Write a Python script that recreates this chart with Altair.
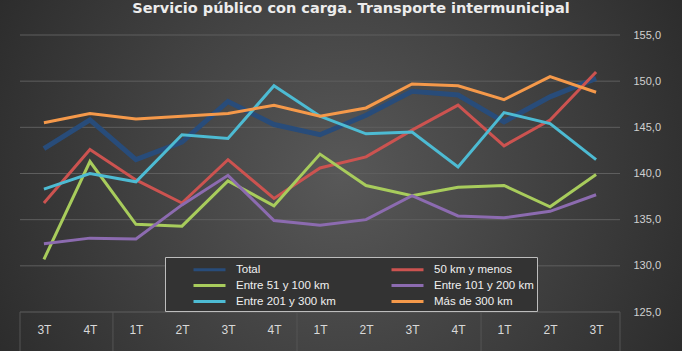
import altair as alt
import pandas as pd

title_text = "Servicio público con carga. Transporte intermunicipal"
quarters = ["3T", "4T", "1T", "2T", "3T", "4T", "1T", "2T", "3T", "4T", "1T", "2T", "3T"]
series_names = ["Total", " 50 km y menos", "Entre 51 y 100 km", "Entre 101 y 200 km",
                "Entre 201 y 300 km", "Más de 300 km"]
total = [142.7, 145.8, 141.5, 143.4, 147.8, 145.3, 144.2, 146.3, 148.9, 148.5, 145.6, 148.3, 150.3]
menos50 = [136.8, 142.6, 139.3, 136.8, 141.5, 137.3, 140.6, 141.8, 144.7, 147.4, 143.0, 145.8, 151.0]
e51_100 = [130.7, 141.3, 134.5, 134.3, 139.2, 136.5, 142.1, 138.7, 137.6, 138.5, 138.7, 136.4, 139.9]
e101_200 = [132.4, 133.0, 132.9, 136.6, 139.8, 134.9, 134.4, 135.0, 137.6, 135.4, 135.2, 135.9, 137.7]
e201_300 = [138.3, 140.0, 139.1, 144.2, 143.8, 149.5, 146.2, 144.3, 144.5, 140.7, 146.6, 145.4, 141.5]
mas300 = [145.5, 146.5, 145.9, 146.2, 146.5, 147.4, 146.2, 147.1, 149.7, 149.5, 148.0, 150.5, 148.8]
y_ticks = [125, 130, 135, 140, 145, 150, 155]
colors = ["#284c7a", "#cc5350", "#a8cc5c", "#8c6bb0", "#4dbbd3", "#f5994a"]
year_breaks = [-0.52, 1.5, 5.5, 9.5, 12.52]

all_series = [total, menos50, e51_100, e101_200, e201_300, mas300]
rows = []
for name, vals in zip(series_names, all_series):
    for i, v in enumerate(vals):
        rows.append({"serie": name, "idx": i, "valor": v})
df = pd.DataFrame(rows)
breaks_df = pd.DataFrame({"b": year_breaks})
grid_df = pd.DataFrame({"g": y_ticks})

FONT = "Liberation Sans"
x_scale = alt.Scale(domain=[-0.52, 12.52], nice=False, zero=False)
y_scale = alt.Scale(domain=[125, 155], nice=False, zero=False)
label_arr = "[" + ",".join("'%s'" % q for q in quarters) + "]"

x_axis = alt.Axis(values=list(range(13)), labelExpr=label_arr + "[datum.value]",
                  title=None, grid=False, domain=False, ticks=False, zindex=1,
                  labelPadding=12, labelColor="#d9d9d9", labelFontSize=12,
                  labelFont=FONT)
y_axis = alt.Axis(orient="right", values=y_ticks,
                  labelExpr="replace(format(datum.value, '.1f'), '.', ',')",
                  title=None, domain=False, ticks=False, grid=False, zindex=1,
                  labelPadding=13,
                  labelColor="#d0d0d0", labelFontSize=11, labelFont=FONT)

bg = alt.Chart(pd.DataFrame({"a": [0]})).mark_rect(
    fill=alt.RadialGradient(
        gradient="radial",
        stops=[alt.GradientStop(offset=0, color="#585858"),
               alt.GradientStop(offset=1, color="#1e1e1e")],
        x1=0.5, y1=0.5, r1=0, x2=0.5, y2=0.5, r2=0.75,
    ),
    clip=False,
).encode(x=alt.value(-20), x2=alt.value(662), y=alt.value(-35), y2=alt.value(316))

title = alt.Chart(pd.DataFrame({"t": [title_text]})).mark_text(
    font="DejaVu Sans", fontSize=14.5, fontWeight="bold", color="#ececec",
    align="center", baseline="alphabetic", clip=False,
).encode(text="t:N", x=alt.value(331), y=alt.value(-22))

grid = alt.Chart(grid_df).mark_rule(color="#5e5e5e", strokeWidth=1).encode(
    y=alt.Y("g:Q", scale=y_scale, axis=y_axis),
)

seps = alt.Chart(breaks_df).mark_rule(color="#555555", strokeWidth=1, clip=False).encode(
    x=alt.X("b:Q", scale=x_scale, axis=x_axis),
    y=alt.value(277),
    y2=alt.value(320),
)

lines = alt.Chart(df).mark_line(strokeJoin="miter").encode(
    x=alt.X("idx:Q", scale=x_scale, axis=x_axis),
    y=alt.Y("valor:Q", scale=y_scale, axis=y_axis),
    color=alt.Color("serie:N", sort=series_names,
                    scale=alt.Scale(domain=series_names, range=colors),
                    legend=alt.Legend(
                        title=None, orient="none", legendX=145, legendY=222,
                        direction="horizontal",
                        columns=2, symbolType="M-2,0H2", symbolSize=256,
                        symbolStrokeWidth=3, symbolOffset=32, labelOffset=17,
                        columnPadding=30, rowPadding=0, padding=3,
                        labelColor="#f0f0f0", labelFontSize=11.5, labelFont=FONT,
                        strokeColor="#bdbdbd", fillColor="#333333", labelLimit=200)),
    strokeWidth=alt.condition(alt.datum.serie == "Total", alt.value(5), alt.value(3)),
    order=alt.Order("idx:Q"),
)

chart = alt.layer(bg, title, grid, seps, lines).properties(
    width=600, height=277,
    padding={"left": 20, "top": 35, "right": 62, "bottom": 39},
    autosize=alt.AutoSizeParams(type="none"),
).configure(background="#2a2a2a").configure_view(stroke=None)

chart.save("out.html", embed_options={"renderer": "svg", "actions": False})
